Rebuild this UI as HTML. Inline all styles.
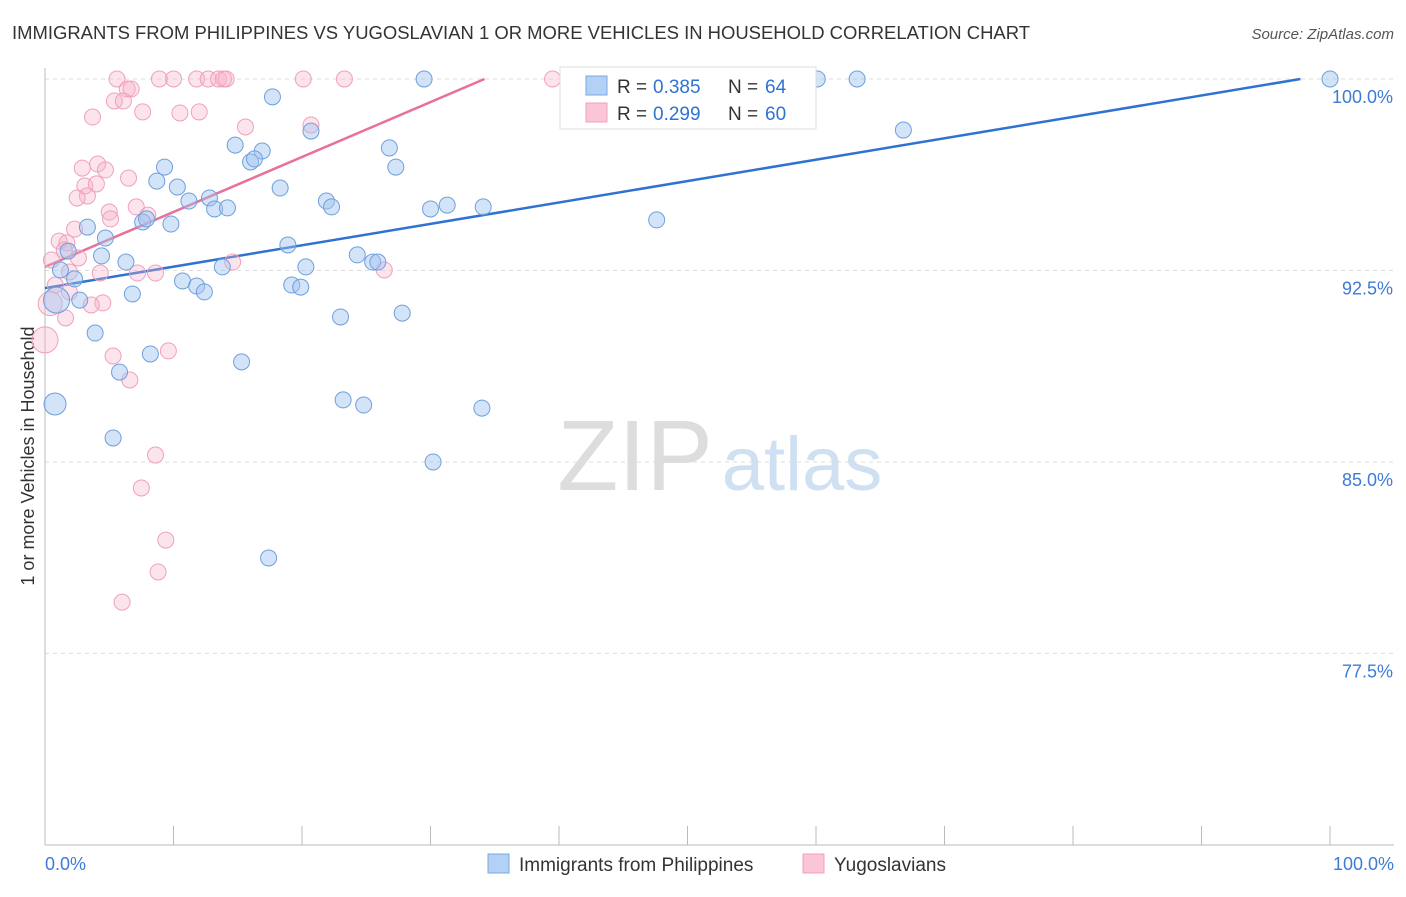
<!DOCTYPE html>
<html><head><meta charset="utf-8"><style>
body{margin:0;background:#fff;font-family:"Liberation Sans",sans-serif;}
svg text{font-family:"Liberation Sans",sans-serif;}
</style></head><body>
<svg id="chart" width="1406" height="892" xmlns="http://www.w3.org/2000/svg">
<text x="12" y="39" font-size="18" fill="#333" textLength="1018" lengthAdjust="spacingAndGlyphs">IMMIGRANTS FROM PHILIPPINES VS YUGOSLAVIAN 1 OR MORE VEHICLES IN HOUSEHOLD CORRELATION CHART</text>
<text x="1394" y="39" font-size="15" fill="#555" text-anchor="end" font-style="italic">Source: ZipAtlas.com</text>
<text transform="translate(34,456) rotate(-90)" font-size="18" fill="#333" text-anchor="middle">1 or more Vehicles in Household</text>
<g>
<text x="635" y="490" font-size="100" fill="#ddd" font-family="Liberation Serif,serif" text-anchor="middle">ZIP</text>
<text x="802" y="490" font-size="76" fill="#cfe0f3" text-anchor="middle">atlas</text>
</g>
<g id="grid"></g><g id="axes"></g><g id="lines"></g><g id="pts"></g>
<g>
<rect x="560" y="67" width="256" height="62" fill="#fff" stroke="#ddd"/>
<rect x="586" y="76" width="21" height="19" fill="#b3d0f5" stroke="#7aa8e0"/>
<text x="617" y="93" font-size="19" fill="#333">R =</text>
<text x="653" y="93" font-size="19" fill="#2f72d2">0.385</text>
<text x="728" y="93" font-size="19" fill="#333">N =</text>
<text x="765" y="93" font-size="19" fill="#2f72d2">64</text>
<rect x="586" y="103" width="21" height="19" fill="#fac6d6" stroke="#f0a0bc"/>
<text x="617" y="120" font-size="19" fill="#333">R =</text>
<text x="653" y="120" font-size="19" fill="#2f72d2">0.299</text>
<text x="728" y="120" font-size="19" fill="#333">N =</text>
<text x="765" y="120" font-size="19" fill="#2f72d2">60</text>
</g>
<g>
<rect x="488" y="854" width="21" height="19" fill="#b3d0f5" stroke="#7aa8e0"/>
<text x="519" y="871" font-size="19" fill="#333">Immigrants from Philippines</text>
<rect x="803" y="854" width="21" height="19" fill="#fac6d6" stroke="#f0a0bc"/>
<text x="834" y="871" font-size="19" fill="#333">Yugoslavians</text>
</g>
</svg>
<script>
const yTicks=[100,92.5,85,77.5];
const yTickLabels=["100.0%","92.5%","85.0%","77.5%"];
const xTicks=[0,10,20,30,40,50,60,70,80,90,100];
const blueX=[0.78,29.5,60.1,63.2,100,17.7,20.7,66.8,14.8,16.9,26.8,16.0,16.3,9.3,27.3,8.7,10.3,18.3,12.8,11.2,21.9,22.3,13.2,14.2,30.0,31.3,34.1,47.6,7.6,7.9,9.8,3.3,4.7,18.9,24.3,4.4,25.5,25.9,6.3,1.2,13.8,20.3,2.3,10.7,11.8,19.2,19.9,12.4,6.8,0.9,2.7,23.0,27.8,3.9,8.2,15.3,5.8,23.2,24.8,34.0,5.3,30.2,17.4,1.8];
const blueY=[87.27,100,100,100,100,99.3,97.96,98.0,97.41,97.18,97.3,96.75,96.87,96.55,96.55,96.0,95.77,95.73,95.34,95.22,95.22,94.99,94.91,94.95,94.91,95.06,94.99,94.48,94.4,94.52,94.32,94.2,93.77,93.5,93.11,93.07,92.83,92.83,92.83,92.52,92.64,92.64,92.17,92.09,91.89,91.93,91.85,91.66,91.58,91.34,91.34,90.68,90.83,90.05,89.23,88.92,88.52,87.43,87.23,87.11,85.94,85.0,81.24,93.26];
const blueR=[11,8,8,8,8,8,8,8,8,8,8,8,8,8,8,8,8,8,8,8,8,8,8,8,8,8,8,8,8,8,8,8,8,8,8,8,8,8,8,8,8,8,8,8,8,8,8,8,8,13,8,8,8,8,8,8,8,8,8,8,8,8,8,8];
const pinkX=[0,5.6,8.9,10.0,11.8,12.7,13.5,13.9,14.1,20.1,23.3,39.5,6.4,6.7,5.4,6.1,3.7,7.6,10.5,12.0,15.6,20.7,2.9,4.1,4.7,6.5,3.1,4.0,3.3,2.5,5.0,7.1,5.1,8.0,2.3,1.1,1.7,0.5,2.6,1.5,14.6,1.9,4.3,7.2,8.6,26.4,0.8,1.9,4.5,3.6,1.6,5.3,9.6,6.6,8.6,7.5,9.4,8.8,6.0,0.4];
const pinkY=[89.78,100,100,100,100,100,100,100,100,100,100,100,99.61,99.61,99.14,99.14,98.51,98.71,98.67,98.71,98.12,98.2,96.51,96.67,96.44,96.12,95.81,95.89,95.42,95.34,94.79,94.99,94.52,94.67,94.12,93.65,93.58,92.91,92.99,93.3,92.83,92.44,92.4,92.4,92.4,92.52,91.93,91.66,91.23,91.15,90.64,89.15,89.35,88.21,85.27,83.98,81.94,80.69,79.51,91.2];
const pinkR=[13,8,8,8,8,8,8,8,8,8,8,8,8,8,8,8,8,8,8,8,8,8,8,8,8,8,8,8,8,8,8,8,8,8,8,8,8,8,8,8,8,8,8,8,8,8,8,8,8,8,8,8,8,8,8,8,8,8,8,12];
const blueLine=[0,91.81,97.7,100];
const pinkLine=[0,92.64,34.2,100];
const X=v=>45+v*12.85, Y=v=>79+(100-v)*25.53;
const NS="http://www.w3.org/2000/svg";
function mk(p,t,a){const e=document.createElementNS(NS,t);for(const k in a)e.setAttribute(k,a[k]);p.appendChild(e);return e;}
const grid=document.getElementById('grid'),axes=document.getElementById('axes'),lines=document.getElementById('lines'),pts=document.getElementById('pts');
yTicks.forEach((t,i)=>{
 const l=mk(grid,'line',{x1:45,x2:1394,y1:Y(t),y2:Y(t),stroke:'#ddd','stroke-dasharray':'4,4'});
 
 
 const tx=mk(axes,'text',{x:1393,y:Y(t)+24,'font-size':18,fill:'#3d7bd6','text-anchor':'end'});
 tx.textContent=yTickLabels[i];
 
 
});
const ax=mk(axes,'line',{x1:45,x2:1394,y1:845,y2:845,stroke:'#bbb'});


const ay=mk(axes,'line',{x1:45,x2:45,y1:68,y2:845,stroke:'#bbb'});


xTicks.forEach(t=>{
 const l=mk(axes,'line',{x1:X(t),x2:X(t),y1:826,y2:845,stroke:'#bbb'});
 
 
});
[[0,'0.0%','start',45],[100,'100.0%','end',1394]].forEach(a=>{
 const tx=mk(axes,'text',{x:a[3],y:870,'font-size':18,fill:'#3d7bd6','text-anchor':a[2]});
 tx.textContent=a[1];
 
 
});
pinkX.forEach((x,i)=>{
 const c=mk(pts,'circle',{cx:X(x),cy:Y(pinkY[i]),r:pinkR[i],fill:'rgba(246,178,200,0.35)',stroke:'#f0a0bc','stroke-width':1});
 
 
});
blueX.forEach((x,i)=>{
 const c=mk(pts,'circle',{cx:X(x),cy:Y(blueY[i]),r:blueR[i],fill:'rgba(160,196,240,0.45)',stroke:'#6e9fdc','stroke-width':1});
 
 
});
const bl=mk(lines,'line',{x1:X(blueLine[0]),y1:Y(blueLine[1]),x2:X(blueLine[2]),y2:Y(blueLine[3]),stroke:'#2f72d2','stroke-width':2.5});


const pl=mk(lines,'line',{x1:X(pinkLine[0]),y1:Y(pinkLine[1]),x2:X(pinkLine[2]),y2:Y(pinkLine[3]),stroke:'#e8709a','stroke-width':2.5});


</script>
</body></html>
